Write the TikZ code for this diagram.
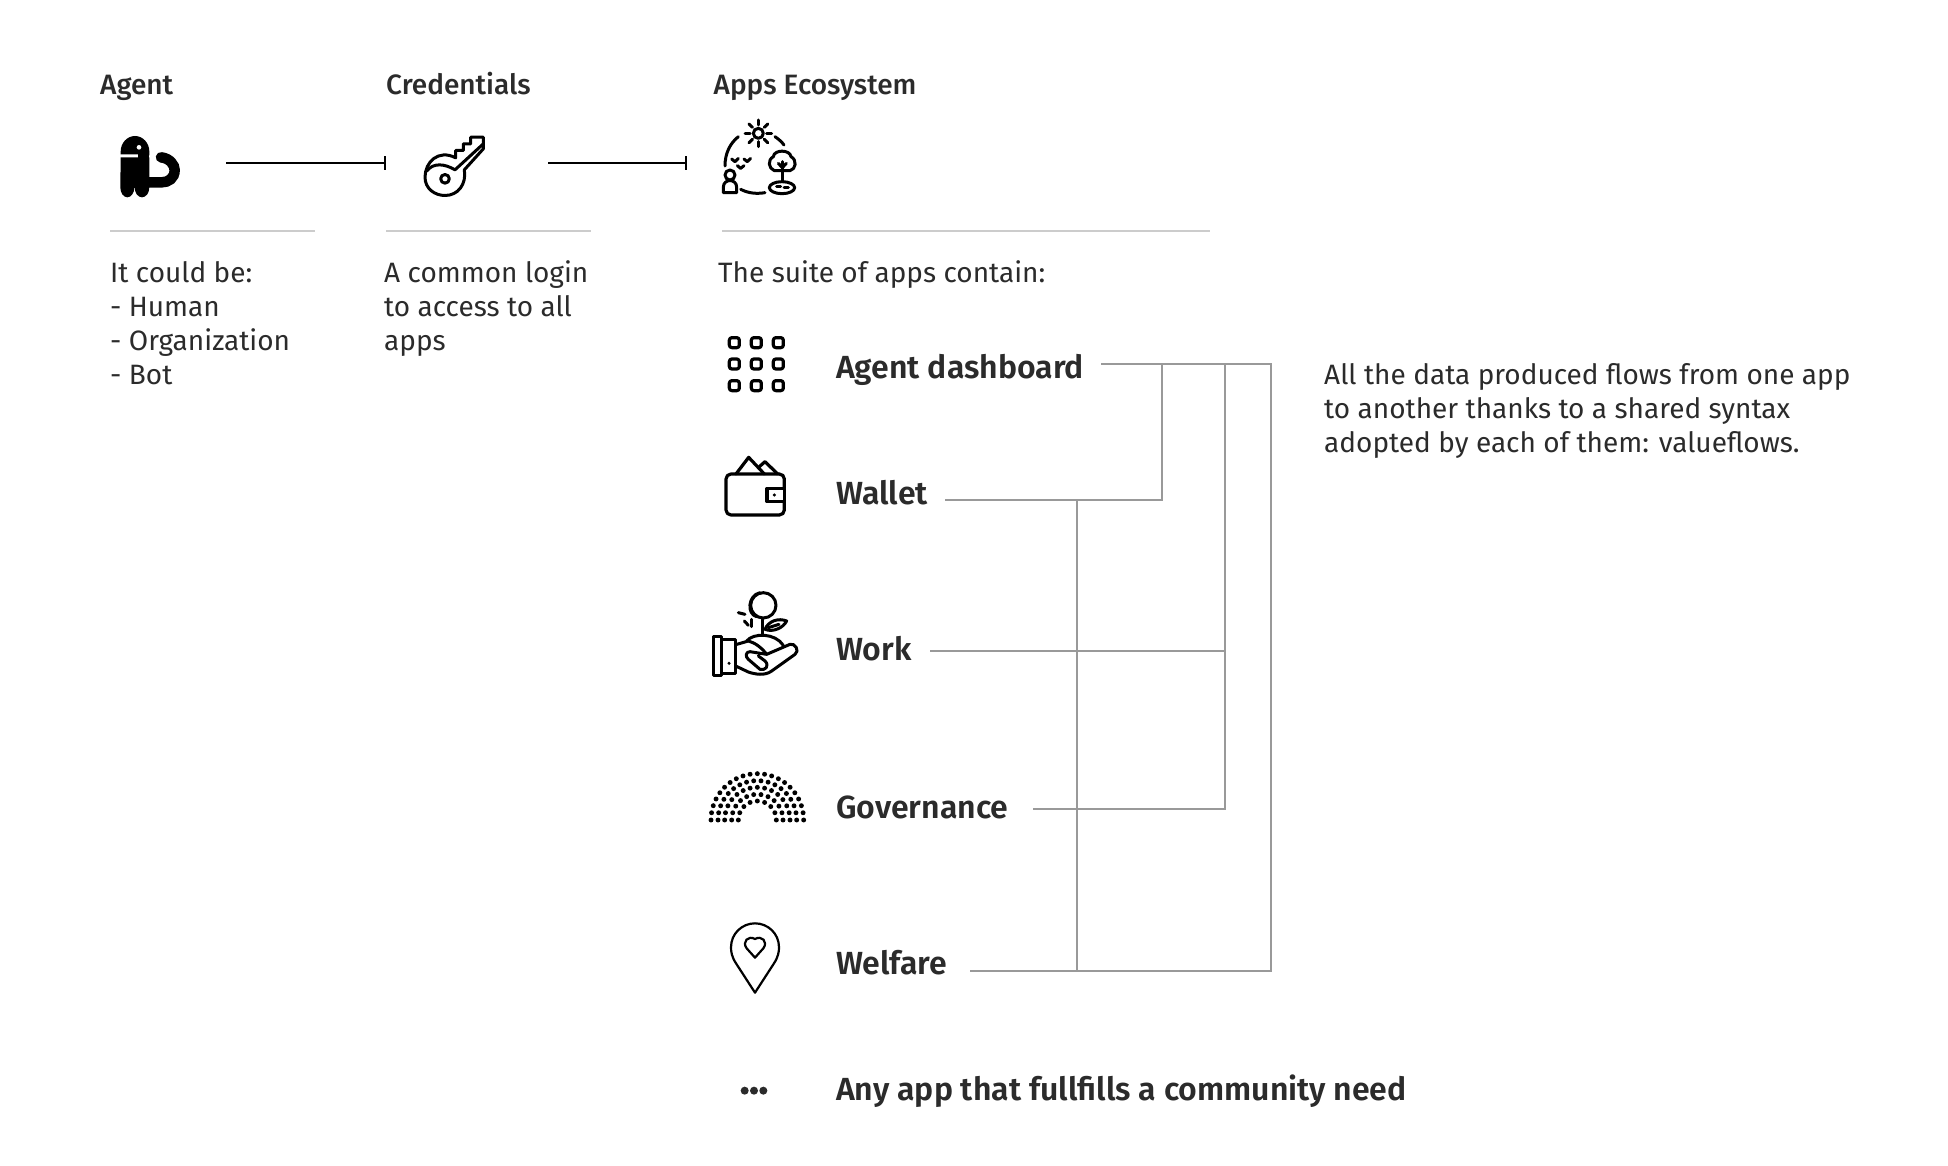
\documentclass[tikz,border=0pt]{standalone}
\usepackage{fontspec}
\setmainfont{Fira Sans}
\newfontfamily\fmed{Fira Sans Medium}
\newfontfamily\fsemi{Fira Sans SemiBold}
\usetikzlibrary{calc,arrows.meta}
\definecolor{ink}{HTML}{2B2B2B}
\definecolor{rulegray}{HTML}{CCCCCC}
\definecolor{linkgray}{HTML}{999999}
\tikzset{
  title/.style={anchor=base west,inner sep=0pt,text=ink,font=\fmed\fontsize{28}{34}\selectfont},
  body/.style={anchor=north west,inner sep=0pt,text=ink,align=left,font=\fontsize{28}{34}\selectfont},
  app/.style={anchor=base west,inner sep=0pt,text=ink,font=\fsemi\fontsize{32}{38}\selectfont},
  hrule/.style={draw=rulegray,line width=2pt},
  flow/.style={draw=black,line width=2pt,-{Bar[width=14pt,line width=1.6pt]}},
  link/.style={draw=linkgray,line width=2pt},
  ico/.style={draw=black,line width=3pt,line cap=round,line join=round,fill=none},
  zoomed/.style={shift={#1},scale=1/3},
}
\begin{document}
\begin{tikzpicture}[x=1pt,y=-1pt]
\useasboundingbox (0,0) rectangle (1948,1166);
\fill[white] (0,0) rectangle (1948,1166);

% headings
\node[title] (tAgent) at (100,95) {Agent};
\node[title] (tCred) at (386,95) {Credentials};
\node[title] (tApps) at (713.5,95) {Apps Ecosystem};

% rules
\coordinate (r1a) at (110,231); \coordinate (r1b) at (315,231);
\coordinate (r2a) at (386,231); \coordinate (r2b) at (591,231);
\coordinate (r3a) at (722,231); \coordinate (r3b) at (1210,231);
\draw[hrule] (r1a) -- (r1b);
\draw[hrule] (r2a) -- (r2b);
\draw[hrule] (r3a) -- (r3b);

% flow connectors
\coordinate (f1a) at (226,163.5); \coordinate (f1b) at (386,163.5);
\coordinate (f2a) at (548,163.5); \coordinate (f2b) at (687,163.5);
\draw[flow] (f1a) -- (f1b);
\draw[flow] (f2a) -- (f2b);

% body text
\node[body] (bAgent) at (110,261) {It could be:\\- Human\\- Organization\\- Bot};
\node[body] (bCred) at (384,260) {A common login\\to access to all\\apps};
\node[body] (bApps) at (718,260) {The suite of apps contain:};
\node[body] (bFlow) at (1324,363) {All the data produced flows from one app\\to another thanks to a shared syntax\\adopted by each of them: valueflows.};

% app labels
\node[app] (aDash) at (836,378) {Agent dashboard};
\node[app] (aWallet) at (836,504.5) {Wallet};
\node[app] (aWork) at (836,660) {Work};
\node[app] (aGov) at (836,818) {Governance};
\node[app] (aWelf) at (836,974.5) {Welfare};
\node[app] (aAny) at (836,1100) {Any app that fullfills a community need};

% link connectors
\coordinate (dS) at (1101,363.5); \coordinate (dE) at (1271,363.5);
\coordinate (j1) at (1162,363.5); \coordinate (j2) at (1225,363.5);
\coordinate (wS) at (945,500); \coordinate (wJ) at (1162,500); \coordinate (v1) at (1077,500);
\coordinate (kS) at (930,651); \coordinate (kE) at (1225,651);
\coordinate (gS) at (1033,809); \coordinate (gE) at (1225,809);
\coordinate (eS) at (970,971); \coordinate (eE) at (1271,971); \coordinate (v2) at (1077,971);
\draw[link] (dS) -- (dE) -- (eE) -- (eS);
\draw[link] (j1) -- (wJ) -- (wS);
\draw[link] (j2) -- (gE) -- (gS);
\draw[link] (kS) -- (kE);
\draw[link] (v1) -- (v2);

% agent icon
\begin{scope}[zoomed={(90,110)}]
  \fill[black] (92,133) -- (92,125) arc[start angle=180,end angle=360,x radius=43,y radius=47] -- (178,136) -- (143,133) -- cycle;
  \fill[black] (92,142) -- (178,142) -- (178,232) arc[start angle=0,end angle=180,x radius=22,y radius=30] -- (133,232) arc[start angle=0,end angle=180,x radius=21,y radius=30] -- cycle;
  \fill[black] (143,133) rectangle (178,145);
  \fill[white] (147,112) circle (7);
  \draw[black,line width=10.5pt,line cap=round] (213,142) .. controls (240,145) and (254,165) .. (254,180) .. controls (254,205) and (235,217) .. (215,217) -- (175,217);
\end{scope}

% key icon
\begin{scope}[zoomed={(410,120.5)}]
  \draw[ico] (137,112) .. controls (85,85) and (45,125) .. (45,170) .. controls (45,205) and (75,225) .. (105,225) .. controls (145,225) and (170,190) .. (163,148) -- (220,85) -- (220,50) -- (182,50) -- (182,70) -- (160,70) -- (160,90) -- (137,90) -- cycle;
  \draw[ico] (50,152) .. controls (70,125) and (105,130) .. (135,148) -- (220,70);
  \draw[ico] (105,175) circle (13);
\end{scope}

% ecosystem icon
\begin{scope}[zoomed={(710,110)}]
  \draw[ico] (145,70) circle (15);
  \foreach \a in {0,45,...,315} \draw[ico] ($(145,70)+(\a:25)$) -- ($(145,70)+(\a:40)$);
  \draw[ico] (45,168) .. controls (45,130) and (60,100) .. (85,80);
  \draw[ico] (195,80) .. controls (205,87) and (215,95) .. (222,105);
  \draw[ico] (92,238) .. controls (115,250) and (140,252) .. (165,248);
  \draw[ico] (65,147) -- (75,155) -- (85,145);
  \draw[ico] (102,147) -- (112,155) -- (122,145);
  \draw[ico] (82,167) -- (92,175) -- (102,167);
  \draw[ico] (60,195) circle (15);
  \draw[ico] (40,248) -- (40,232) .. controls (40,205) and (80,205) .. (80,232) -- (80,248) -- cycle;
  \draw[ico] (217,182) -- (193,182) .. controls (175,175) and (172,150) .. (190,140) .. controls (192,118) and (240,118) .. (243,140) .. controls (262,150) and (258,178) .. (240,182) -- cycle;
  \draw[ico] (217,155) -- (217,215);
  \draw[ico] (205,160) -- (217,173) -- (229,160);
  \draw[ico] (216,233) ellipse [x radius=38,y radius=18];
  \draw[ico] (200,230) -- (212,230);
  \draw[ico] (222,234) -- (235,234);
\end{scope}

% grid icon
\begin{scope}[zoomed={(701,320)}]
  \foreach \x in {100,166,232} \foreach \y in {68,132,197}
    \draw[ico,line width=3.2pt,rounded corners=2.5pt] (\x-15,\y-15) rectangle (\x+15,\y+15);
\end{scope}

% wallet icon
\begin{scope}[zoomed={(701,320)}]
  \draw[ico,line width=3.2pt,rounded corners=5pt] (250,505) -- (250,462) -- (75,462) -- (75,585) -- (250,585) -- (250,545);
  \draw[ico,line width=3.2pt] (250,505) -- (198,505) -- (198,545) -- (250,545) -- cycle;
  \fill[black] (220,525) circle (5);
  \draw[ico,line width=3.2pt] (105,462) -- (143,412) -- (190,462);
  \draw[ico,line width=3.2pt] (175,440) -- (192,425) -- (230,462);
\end{scope}

% hand icon
\begin{scope}[zoomed={(705,586)}]
  \draw[ico] (175,58) circle (38);
  \draw[ico] (165,20) .. controls (128,28) and (125,85) .. (155,92);
  \draw[ico] (100,80) -- (120,85);
  \draw[ico] (118,105) -- (130,118);
  \draw[ico] (140,100) -- (140,122);
  \draw[ico] (173,97) -- (173,148);
  \draw[ico] (180,130) .. controls (190,105) and (220,95) .. (245,105) .. controls (235,125) and (205,140) .. (180,130) -- cycle;
  \draw[ico] (190,125) -- (222,115);
  \draw[ico] (125,165) .. controls (145,140) and (210,140) .. (235,178);
  \draw[ico] (25,150) rectangle (50,268);
  \draw[ico] (50,160) -- (92,160) -- (92,262) -- (50,262);
  \draw[ico] (92,176) -- (130,165) .. controls (150,170) and (170,185) .. (185,205) -- (255,175) .. controls (270,170) and (285,195) .. (270,205) -- (200,255) .. controls (180,270) and (150,265) .. (130,258) -- (92,240);
  \draw[ico] (185,205) -- (135,197) .. controls (122,197) and (120,212) .. (130,220) -- (165,250) .. controls (180,255) and (195,240) .. (180,225) -- (160,210);
  \fill[black] (72,232) circle (5);
\end{scope}

% parliament icon
\begin{scope}[zoomed={(700,760)}]
  \foreach \r/\n in {139/20,118/17,98/14,77/11,57/8}
    \foreach \i in {0,...,\n}
      \fill[black] ($(172,180)+({-180*\i/\n}:\r)$) circle (7.4);
\end{scope}

% pin icon
\begin{scope}[zoomed={(700,760)}]
  \draw[ico,line width=2.2pt] (165,698) -- (108,610) .. controls (95,590) and (93,575) .. (93,562) .. controls (93,520) and (127,490) .. (165,490) .. controls (203,490) and (237,520) .. (237,562) .. controls (237,575) and (235,590) .. (222,610) -- cycle;
  \draw[ico,line width=2.2pt] (165,593) -- (140,565) .. controls (125,545) and (145,525) .. (165,537) .. controls (185,525) and (205,545) .. (190,565) -- cycle;
\end{scope}

% ellipsis icon
\begin{scope}[zoomed={(700,760)}]
  \foreach \x in {134,162,190} \fill[ink] (\x,992) circle (12);
\end{scope}
\end{tikzpicture}
\end{document}
